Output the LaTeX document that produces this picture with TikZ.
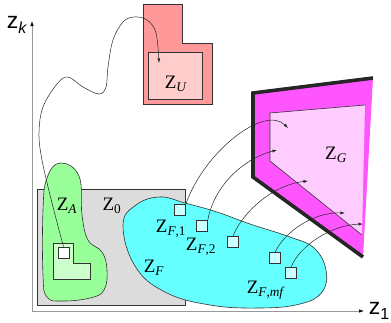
\documentclass[tikz,border=0pt]{standalone}
\usepackage{fontspec}
\setmainfont{Liberation Serif}
\newfontfamily\axfont{Liberation Sans}
\usetikzlibrary{arrows.meta}

\definecolor{boxgray}{HTML}{DCDCDC}
\definecolor{agreen}{HTML}{99FF99}
\definecolor{agreenlt}{HTML}{CCFFCC}
\definecolor{ured}{HTML}{FF9999}
\definecolor{uredlt}{HTML}{FFCCCC}
\definecolor{fcyan}{HTML}{66FFFF}
\definecolor{fcyanlt}{HTML}{CCFFFF}
\definecolor{gmag}{HTML}{FF55FF}
\definecolor{gmaglt}{HTML}{FFCCFF}

\newcommand{\zlab}[1]{Z\textsubscript{#1}}
\newcommand{\axsub}[1]{\raisebox{-0.22em}{\fontsize{16}{16}\selectfont #1}}

\begin{document}
\begin{tikzpicture}[
  x=1pt, y=-1pt,
  axis/.style={line width=0.7pt, black!40, -{Latex[length=5pt,width=3.5pt,black]}},
  outline/.style={line width=0.6pt, black!80},
  wire/.style={line width=0.5pt, black!85, -{Latex[length=4.5pt,width=3pt]}},
  rim/.style={line width=3.6pt, black!85, line join=miter},
  fsq/.style={draw=black!80, line width=0.6pt, fill=fcyanlt, minimum size=11pt,
              inner sep=0pt},
  lab/.style={font=\fontsize{19}{19}\selectfont, inner sep=0pt},
  axlab/.style={font=\axfont\fontsize{23}{23}\selectfont, inner sep=0pt}]
\useasboundingbox (0,0) rectangle (391,322);

% ============================== axes ===================================
\coordinate (o)  at (32,311);
\coordinate (xe) at (364,311);
\coordinate (ye) at (32,21);
\draw[axis] (o) -- (xe);
\draw[axis] (o) -- (ye);
\node[axlab] (zk) at (17,25) {z\axsub{\textit{k}}};
\node[axlab] (z1) at (379,311) {z\axsub{1}};

% ============================ Z_0 and Z_A ==============================
\draw[outline, fill=boxgray] (37,189) rectangle (185,305);
\draw[outline, fill=agreen] plot[smooth cycle, tension=0.7] coordinates {
  (60,163) (79,176) (82,215) (88,240) (102,252) (107,270) (104,290)
  (90,298) (62,301) (47,297) (43,275) (43,210) (47,178)};
\draw[outline, fill=agreenlt]
  (53,243) -- (73,243) -- (73,263) -- (90,263) -- (90,279) -- (53,279) -- cycle;
\node[draw=black!80, line width=0.6pt, fill=white, minimum size=11pt,
      inner sep=0pt] (a0) at (63.5,252.5) {};
\node[lab] (la) at (67,206) {\zlab{\textit{A}}};
\node[lab] (l0) at (112,206) {\zlab{0}};

% ================================ Z_U ==================================
\draw[outline, fill=ured]
  (143,4) -- (182,4) -- (182,43) -- (212,43) -- (212,104) -- (143,104) -- cycle;
\draw[outline, fill=uredlt] (148,52) rectangle (202,99);
\node[lab] (lu) at (176,84) {\zlab{\textit{U}}};
\coordinate (u1) at (159,63);

% ================================ Z_F ==================================
\draw[outline, fill=fcyan] plot[smooth cycle, tension=0.7] coordinates {
  (123,225) (136,205) (160,197) (185,203) (217,212) (250,224) (290,237)
  (314,248) (326,270) (322,292) (300,304) (260,308) (210,305) (165,292)
  (135,266)};
\node[fsq] (f1) at (180,210) {};
\node[fsq] (f2) at (202,226) {};
\node[fsq] (f3) at (233,242) {};
\node[fsq] (f4) at (275,258) {};
\node[fsq] (f5) at (291,273) {};
\node[lab] (lf1) at (171,229) {\zlab{\textit{F},1}};
\node[lab] (lf2) at (201,247) {\zlab{\textit{F},2}};
\node[lab] (lf)  at (154,268) {\zlab{\textit{F}}};
\node[lab] (lfm) at (266,290) {\zlab{\textit{F},\textit{mf}}};

% ================================ Z_G ==================================
\fill[gmag] (253,93) -- (373,78) -- (363,257) -- (253,177) -- cycle;
\draw[rim] (363,257) -- (253,177) -- (253,93) -- (373,78);
\fill[gmaglt] (270,113) -- (365,105) -- (362,235) -- (270,161) -- cycle;
\draw[outline] (365,105) -- (270,113) -- (270,161) -- (362,235);
\node[lab] (lg) at (336,155) {\zlab{\textit{G}}};
\coordinate (g1) at (288,128);
\coordinate (g2) at (277,150);
\coordinate (g3) at (308,181);
\coordinate (g4) at (345,213);
\coordinate (g5) at (363,224);

% ============================== mappings ===============================
\draw[wire] plot[smooth, tension=0.6] coordinates {
  (a0.north) (52,203) (42,160) (39,133) (43,107) (57,84) (68,77) (83,87)
  (99,94) (106,87) (108,67) (113,40) (123,22) (134,17) (147,20) (156,33)
  (u1)};
\draw[wire] (f1.north east) .. controls (205,150) and (265,105) .. (g1);
\draw[wire] (f2.north east) .. controls (214,185) and (245,158) .. (g2);
\draw[wire] (f3.north) .. controls (242,213) and (272,185) .. (g3);
\draw[wire] (f4.north) .. controls (284,233) and (312,212) .. (g4);
\draw[wire] (f5.north) .. controls (300,245) and (332,225) .. (g5);

\end{tikzpicture}
\end{document}
